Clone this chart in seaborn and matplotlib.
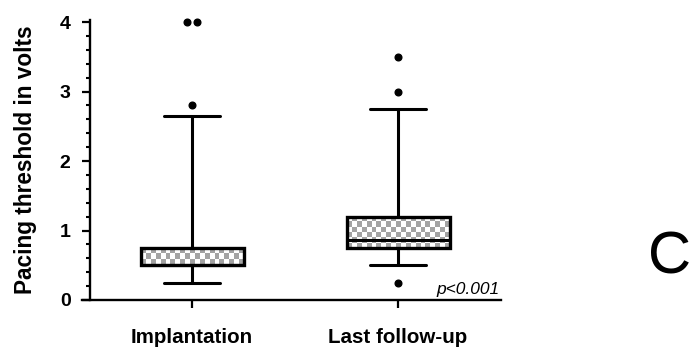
import numpy as np
import pandas as pd
import matplotlib
matplotlib.use("Agg")
import matplotlib.pyplot as plt
from matplotlib.ticker import MultipleLocator
import seaborn as sns

# ---- data ----
groups = ["Implantation", "Last follow-up"]
implantation = [0.25, 0.25, 0.4, 0.4, 0.45,
                0.5, 0.5, 0.5, 0.5, 0.5, 0.5, 0.5, 0.5, 0.5, 0.5, 0.5, 0.5, 0.5, 0.5, 0.5, 0.5,
                0.6, 0.6, 0.6, 0.7, 0.7, 0.7, 0.75, 0.75, 0.75, 0.75,
                1.0, 1.25, 1.5, 2.0, 2.65, 2.65, 2.8, 4.0, 4.0]
last_follow_up = [0.25, 0.5, 0.5, 0.6, 0.7, 0.7, 0.75, 0.75, 0.75, 0.75, 0.75,
                  0.75, 0.8, 0.8, 0.8, 0.8, 0.85, 0.85, 0.85, 0.85, 0.87,
                  0.9, 0.9, 1.0, 1.0, 1.0, 1.1, 1.1, 1.2, 1.2, 1.2,
                  1.5, 1.75, 2.0, 2.25, 2.5, 2.75, 2.75, 3.0, 3.5]
y_ticks = [0, 1, 2, 3, 4]
y_label = "Pacing threshold in volts"
p_text = "p<0.001"
panel_letter = "C"

df = pd.DataFrame({
    "group": [groups[0]] * len(implantation) + [groups[1]] * len(last_follow_up),
    "value": implantation + last_follow_up,
})

sns.set_style("ticks")
plt.rcParams["font.family"] = ["Liberation Sans", "DejaVu Sans"]

W, H = 691, 349
fig = plt.figure(figsize=(W / 100, H / 100), dpi=100)
ax_left, ax_right, ax_bottom, ax_top = 82, 501, 300, 20
ax = fig.add_axes([ax_left / W, 1 - ax_bottom / H,
                   (ax_right - ax_left) / W, (ax_bottom - ax_top) / H])

sns.boxplot(data=df, x="group", y="value", ax=ax, order=groups,
            width=0.5, whis=(2, 94), color="white", linecolor="black",
            linewidth=2.2, fliersize=4.8, capwidths=0.27,
            flierprops=dict(marker="o", markerfacecolor="black",
                            markeredgecolor="black"),
            boxprops=dict(linewidth=2.4))

xlim = (-0.534, 1.5)
ylim = (0, 4.03)
ax.set_xlim(*xlim)
ax.set_ylim(*ylim)

# spread duplicated fliers a little (GraphPad style)
for ln in ax.lines:
    if ln.get_marker() == "o":
        xs = np.asarray(ln.get_xdata(), dtype=float).copy()
        ys = np.asarray(ln.get_ydata(), dtype=float)
        for v in np.unique(ys):
            idx = np.where(ys == v)[0]
            if len(idx) > 1:
                offs = np.linspace(-0.022, 0.022, len(idx))
                xs[idx] = xs[idx] + offs
        ln.set_xdata(xs)
        ln.set_clip_on(False)

# checkerboard fill of boxes
fig.canvas.draw()
for patch in list(ax.patches):
    path = patch.get_path().transformed(patch.get_transform())
    bb = path.get_extents()  # in display pixels
    inv = ax.transData.inverted()
    (x0, y0), (x1, y1) = inv.transform([[bb.x0, bb.y0], [bb.x1, bb.y1]])
    cell = 5.0
    ncol = max(1, int(round(bb.width / cell)))
    nrow = max(1, int(round(bb.height / cell)))
    checker = (np.add.outer(np.arange(nrow), np.arange(ncol)) % 2).astype(float)
    img = ax.imshow(checker, cmap=matplotlib.colors.ListedColormap(["#a3a3a3", "#ffffff"]),
                    extent=(x0, x1, y0, y1), aspect="auto", interpolation="nearest",
                    origin="lower", zorder=patch.get_zorder() - 0.05)
    img.set_clip_path(patch)
    patch.set_facecolor("none")

ax.set_xlim(*xlim)
ax.set_ylim(*ylim)

# axes styling
sns.despine(ax=ax)
ax.spines["left"].set_position(("data", -0.495))
for s in ("left", "bottom"):
    ax.spines[s].set_linewidth(1.7)
    ax.spines[s].set_color("black")
ax.set_yticks(y_ticks)
ax.yaxis.set_minor_locator(MultipleLocator(0.2))
ax.tick_params(axis="y", which="major", length=6, width=1.6, pad=8,
               labelsize=14, colors="black")
ax.tick_params(axis="y", which="minor", length=3.2, width=1.5, colors="black")
ax.tick_params(axis="x", which="major", length=6, width=1.6, pad=14,
               labelsize=14.8, colors="black")
for lab in ax.get_xticklabels() + ax.get_yticklabels():
    lab.set_fontweight("bold")

ax.set_xlabel("")
ax.set_ylabel(y_label, fontsize=16.3, fontweight="bold", color="black")
ax.yaxis.set_label_coords(-0.107, 0.5)

ax.annotate(p_text, xy=(0.997, 0.0), xycoords="axes fraction",
            xytext=(0, 2.5), textcoords="offset points",
            ha="right", va="bottom", fontsize=12.5, fontstyle="italic", color="black")

fig.text(648 / W, 1 - 273 / H, panel_letter, fontsize=43, ha="left",
         va="baseline", color="black")

fig.savefig("out.png", dpi=100)
